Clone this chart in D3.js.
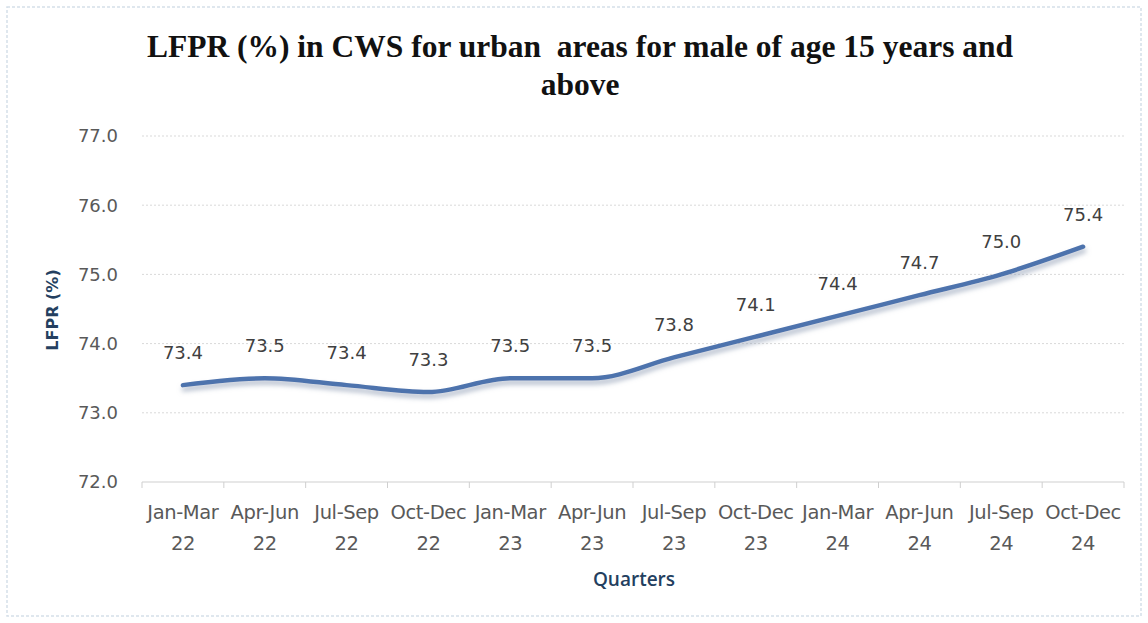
<!DOCTYPE html>
<html>
<head>
<meta charset="utf-8">
<script src="https://cdn.jsdelivr.net/npm/d3@7"></script>
<style>
body { margin: 0; background: #fff; }
</style>
</head>
<body>
<script>
const WIDTH = 1148;
const HEIGHT = 623;

const quarters = ["Jan-Mar 22","Apr-Jun 22","Jul-Sep 22","Oct-Dec 22","Jan-Mar 23","Apr-Jun 23",
    "Jul-Sep 23","Oct-Dec 23","Jan-Mar 24","Apr-Jun 24","Jul-Sep 24","Oct-Dec 24"];
const lfpr = [73.4,73.5,73.4,73.3,73.5,73.5,73.8,74.1,74.4,74.7,75.0,75.4];
const yTicks = [72,73,74,75,76,77];
const titleLines = ["LFPR (%) in CWS for urban  areas for male of age 15 years and","above"];

function main(){
    let svg = d3.select("body")
        .append("svg")
        .attr("width",WIDTH)
        .attr("height",HEIGHT);

    let defs = svg.append("defs");
    let f = defs.append("filter").attr("id","shadow")
        .attr("x","-5%").attr("y","-50%").attr("width","110%").attr("height","200%");
    f.append("feDropShadow")
        .attr("dx",1).attr("dy",4).attr("stdDeviation",2.4)
        .attr("flood-color","#8f9db3").attr("flood-opacity",0.7);

    // outer frame
    svg.append("rect")
        .attr("x",7).attr("y",7).attr("width",WIDTH-14).attr("height",HEIGHT-14)
        .style("fill","white").style("stroke","#d5dfe9")
        .style("stroke-dasharray","3,2").style("stroke-width",1.5);

    let x = d3.scaleBand().domain(quarters).range([142,1124]);
    let y = d3.scaleLinear().domain([72,77]).range([482,136]);
    let cx = q => x(q)+x.bandwidth()/2;

    // gridlines
    svg.append("g").selectAll("line")
        .data(yTicks)
        .enter()
        .append("line")
        .attr("x1",142).attr("x2",1124)
        .attr("y1",d=>y(d)).attr("y2",d=>y(d))
        .style("stroke",d=>d===72 ? "#cfcfcf" : "#d9d9d9")
        .style("stroke-dasharray",d=>d===72 ? null : "2,2")
        .style("stroke-width",1);

    // y tick labels
    svg.append("g").selectAll("text")
        .data(yTicks)
        .enter()
        .append("text")
        .attr("x",118).attr("y",d=>y(d))
        .attr("dy","0.36em")
        .attr("text-anchor","end")
        .style("font-family","DejaVu Sans")
        .style("font-size","18px")
        .style("fill","#595959")
        .text(d=>d.toFixed(1));

    // x axis ticks
    let edges = quarters.map(q=>x(q)).concat([x.range()[1]]);
    svg.append("g").selectAll("line")
        .data(edges)
        .enter()
        .append("line")
        .attr("x1",d=>d).attr("x2",d=>d)
        .attr("y1",482).attr("y2",488)
        .style("stroke","#cfcfcf");

    // x tick labels
    let xl = svg.append("g").selectAll("text")
        .data(quarters)
        .enter()
        .append("text")
        .attr("y",519)
        .attr("text-anchor","middle")
        .style("font-family","DejaVu Sans")
        .style("font-size","19.5px")
        .style("letter-spacing","-0.4px")
        .style("fill","#595959");
    xl.append("tspan").attr("x",cx).text(d=>d.split(" ")[0]);
    xl.append("tspan").attr("x",cx).attr("dy",31).text(d=>d.split(" ")[1]);

    // line
    let line = d3.line()
        .x((d,i)=>cx(quarters[i]))
        .y(d=>y(d))
        .curve(d3.curveMonotoneX);
    svg.append("path")
        .datum(lfpr)
        .attr("d",line)
        .attr("filter","url(#shadow)")
        .style("fill","none")
        .style("stroke","#4e73ad")
        .style("stroke-width",4.5)
        .style("stroke-linecap","round");

    // data labels
    svg.append("g").selectAll("text")
        .data(lfpr)
        .enter()
        .append("text")
        .attr("x",(d,i)=>cx(quarters[i]))
        .attr("y",d=>y(d)-26)
        .attr("text-anchor","middle")
        .style("font-family","DejaVu Sans")
        .style("font-size","18px")
        .style("fill","#404040")
        .text(d=>d.toFixed(1));

    // title
    svg.append("g").selectAll("text")
        .data(titleLines)
        .enter()
        .append("text")
        .attr("x",580)
        .attr("y",(d,i)=>57+i*38)
        .attr("text-anchor","middle")
        .attr("xml:space","preserve")
        .style("white-space","pre")
        .style("font-family","Liberation Serif")
        .style("font-weight","bold")
        .style("font-size","31.5px")
        .style("fill","#111")
        .text(d=>d);

    // axis titles
    svg.append("text")
        .attr("transform","translate(58,310) rotate(-90)")
        .attr("text-anchor","middle")
        .style("font-family","DejaVu Sans")
        .style("font-weight","bold")
        .style("font-size","16px")
        .style("fill","#243f60")
        .text("LFPR (%)");
    svg.append("text")
        .attr("x",634).attr("y",586)
        .attr("text-anchor","middle")
        .style("font-family","Open Sans")
        .style("font-weight","600")
        .style("font-size","19px")
        .style("fill","#243f60")
        .text("Quarters");
}

window.addEventListener("load",main);
</script>
</body>
</html>
